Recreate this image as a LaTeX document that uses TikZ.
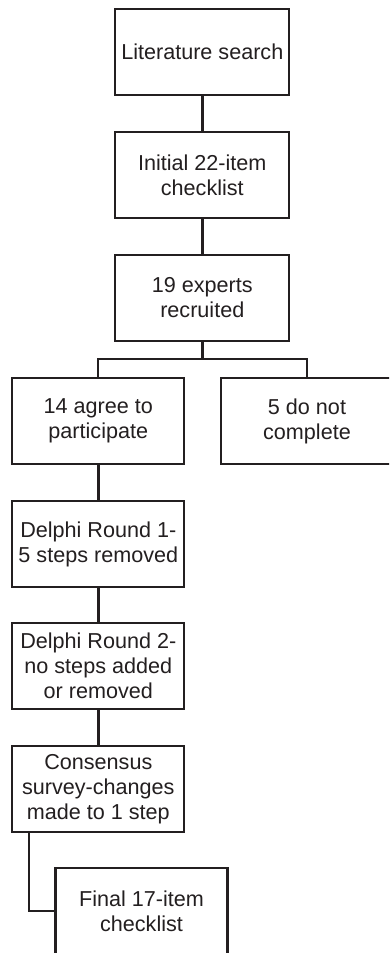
\documentclass[tikz,border=0pt]{standalone}
\usepackage{fontspec}
\setmainfont{Liberation Sans}
\definecolor{ink}{RGB}{35,31,32}
\begin{document}
\begin{tikzpicture}[x=1pt,y=-1pt,
  box/.style={draw=ink, line width=2.2pt, rectangle, inner sep=0pt,
    minimum width=172pt, minimum height=86pt, align=center,
    text=ink, font=\fontsize{21.6}{25}\selectfont},
  widebox/.style={box, minimum width=174pt},
  link/.style={draw=ink, line width=3pt},
  thin/.style={draw=ink, line width=2.2pt}]
\useasboundingbox (0,0) rectangle (389,953);
\fill[white] (0,0) rectangle (389,953);
\clip (0,0) rectangle (389,953);
\node[widebox] (b1) at (202.3,52) {Literature search};
\node[widebox] (b2) at (202.3,175) {Initial 22-item\\checklist};
\node[widebox] (b3) at (202.3,298) {19 experts\\recruited};
\node[box] (b4) at (98.3,421) {14 agree to\\participate};
\node[box] (b5) at (307,421) {5 do not\\complete};
\node[box] (b6) at (98.3,544) {Delphi Round 1-\\5 steps removed};
\node[box] (b7) at (98.3,666) {Delphi Round 2-\\no steps added\\or removed};
\node[box] (b8) at (98.3,789) {Consensus\\survey-changes\\made to 1 step};
\node[box] (b9) at (141.5,911) {Final 17-item\\checklist};
\coordinate (br) at (202.3,359);
\coordinate (b8x) at (29,832);
\draw[link] (b1) -- (b2);
\draw[link] (b2) -- (b3);
\draw[link] (b3) -- (br);
\draw[thin] (b4.north) |- (br) -| (b5.north);
\draw[link] (b4) -- (b6);
\draw[link] (b6) -- (b7);
\draw[link] (b7) -- (b8);
\draw[thin] (b8x) |- (b9.west);
\end{tikzpicture}
\end{document}
